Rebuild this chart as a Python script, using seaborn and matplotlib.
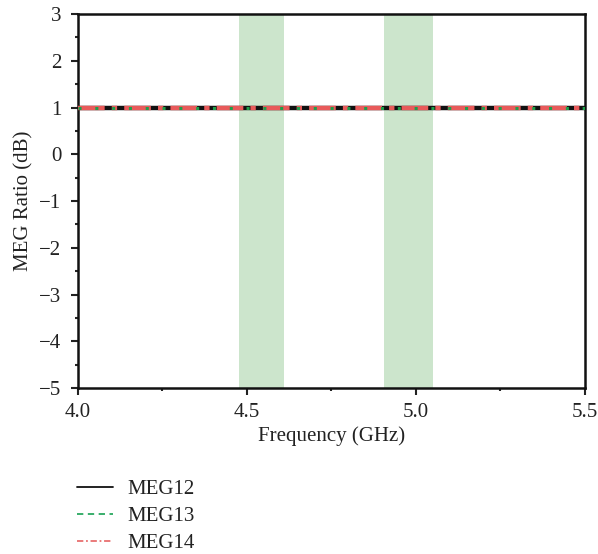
import matplotlib
matplotlib.use("Agg")
import matplotlib.pyplot as plt
from matplotlib.lines import Line2D
from matplotlib.ticker import MultipleLocator
import seaborn as sns
import pandas as pd

# Frequency sweep (GHz) and MEG ratio (dB) of each antenna pair
freq = [4.0, 4.25, 4.5, 4.75, 5.0, 5.25, 5.5]
meg12 = [1.0, 1.0, 1.0, 1.0, 1.0, 1.0, 1.0]
meg13 = [1.0, 1.0, 1.0, 1.0, 1.0, 1.0, 1.0]
meg14 = [1.0, 1.0, 1.0, 1.0, 1.0, 1.0, 1.0]
series_names = ["MEG12", "MEG13", "MEG14"]

# Operating bands (GHz)
bands = [(4.475, 4.61), (4.905, 5.05)]

sns.set_theme(style="white")
plt.rcParams["font.family"] = ["Liberation Serif", "DejaVu Serif"]

fig = plt.figure(figsize=(5.98, 5.54), dpi=100)
ax = fig.add_axes([0.1304, 0.2996, 0.8478, 0.6751])

for lo, hi in bands:
    ax.axvspan(lo, hi, color="#cce5cc", lw=0, zorder=0)

df = pd.DataFrame({"freq": freq, "MEG12": meg12, "MEG13": meg13, "MEG14": meg14})

colors = {"MEG12": "#111111", "MEG13": "#1e9e4a", "MEG14": "#e85a5a"}
styles = {"MEG12": "-", "MEG13": (0, (1.0, 4.5)), "MEG14": (0, (6, 1.6, 1.2, 1.6))}
widths = {"MEG12": 3.2, "MEG13": 2.2, "MEG14": 3.2}
order = ["MEG12", "MEG14", "MEG13"]
for i, name in enumerate(order):
    sns.lineplot(data=df, x="freq", y=name, ax=ax, color=colors[name],
                 linestyle=styles[name], linewidth=widths[name], zorder=2 + i)

ax.set_xlim(4.0, 5.5)
ax.set_ylim(-5, 3)
ax.set_xticks([4.0, 4.5, 5.0, 5.5])
ax.set_xticklabels(["4.0", "4.5", "5.0", "5.5"])
ax.set_yticks(range(-5, 4))
ax.set_yticklabels([str(v).replace("-", "\u2212") for v in range(-5, 4)])
ax.xaxis.set_minor_locator(MultipleLocator(0.25))
ax.yaxis.set_minor_locator(MultipleLocator(0.5))
ax.tick_params(which="major", direction="out", length=5, width=1.5,
               labelsize=15, colors="#222222", bottom=True, left=True)
ax.tick_params(axis="x", which="major", pad=6)
ax.tick_params(axis="y", which="major", pad=7)
ax.tick_params(which="minor", direction="out", length=2.5, width=1.5,
               bottom=True, left=True)
for s in ax.spines.values():
    s.set_linewidth(1.8)
    s.set_color("#111111")

ax.set_xlabel("Frequency (GHz)", fontsize=15, color="#222222", labelpad=3)
ax.set_ylabel("MEG Ratio (dB)", fontsize=15, color="#222222", labelpad=4)

handles = [
    Line2D([], [], color="#111111", lw=1.3, ls="-"),
    Line2D([], [], color="#2aa860", lw=1.3, ls=(0, (3.5, 2.5))),
    Line2D([], [], color="#e87070", lw=1.3, ls=(0, (3.5, 1.5, 1, 1.5))),
]
leg = fig.legend(handles, series_names, loc="upper left",
                 bbox_to_anchor=(0.098, 0.168), frameon=False, fontsize=15,
                 handlelength=1.7, handletextpad=0.7, labelspacing=0.35)
for t in leg.get_texts():
    t.set_color("#222222")

fig.savefig("out.png", dpi=100)
